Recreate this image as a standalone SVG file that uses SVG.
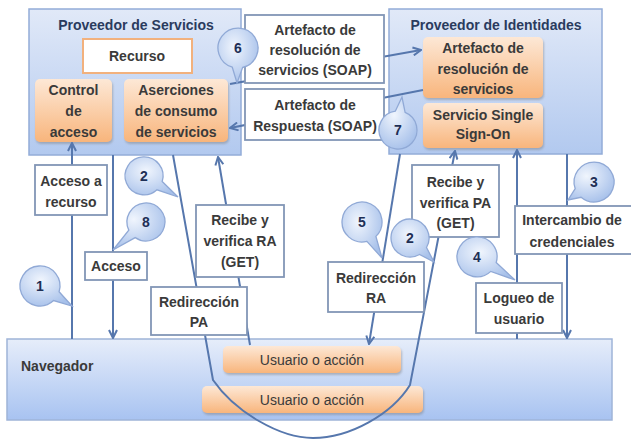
<svg xmlns="http://www.w3.org/2000/svg" width="631" height="440" viewBox="0 0 631 440">
<defs>
<linearGradient id="gCont" x1="0" y1="0" x2="0" y2="1">
<stop offset="0" stop-color="#e1e9f8"/><stop offset="1" stop-color="#b2c9ef"/>
</linearGradient>
<linearGradient id="gNav" x1="0" y1="0" x2="0" y2="1">
<stop offset="0" stop-color="#e6edfa"/><stop offset="1" stop-color="#a8c3f1"/>
</linearGradient>
<linearGradient id="gOr" x1="0" y1="0" x2="0" y2="1">
<stop offset="0" stop-color="#fde8d6"/><stop offset="1" stop-color="#f8b57c"/>
</linearGradient>
<radialGradient id="gBub" cx="0.4" cy="0.35" r="0.7">
<stop offset="0" stop-color="#f0f5fd"/><stop offset="1" stop-color="#a6c0ea"/>
</radialGradient>
<marker id="arr" viewBox="0 0 10 10" refX="9" refY="5" markerWidth="10" markerHeight="10" markerUnits="userSpaceOnUse" orient="auto">
<path d="M1,1 L9,5 L1,9" fill="none" stroke="#5677ad" stroke-width="2"/>
</marker>
<filter id="sh" x="-10%" y="-10%" width="130%" height="140%">
<feDropShadow dx="1" dy="2" stdDeviation="1.2" flood-color="#7a7a7a" flood-opacity="0.45"/>
</filter>
</defs>
<style>
.cont{fill:url(#gCont);stroke:#93acd8;stroke-width:1.5}
.nav{fill:url(#gNav);stroke:#9fb4d8;stroke-width:1.5}
.or{fill:url(#gOr);stroke:none;filter:url(#sh)}
.lab{fill:#ffffff;stroke:#8296b6;stroke-width:1.8}
.rec{fill:#ffffff;stroke:#f2b17d;stroke-width:2}
.bub{fill:url(#gBub);stroke:#90a9d6;stroke-width:1.3}
.c{fill:none;stroke:#5677ad;stroke-width:2}
.a{marker-end:url(#arr)}
text{font-family:"Liberation Sans",Arial,sans-serif;font-size:14px;font-weight:bold;fill:#3a3a3a;text-anchor:middle}
.t{fill:#2a3b5e}
.n{font-weight:normal}
.num{fill:#1e2f55}
</style>

<g id="proveedor-servicios">
<rect class="cont" x="29" y="9" width="212" height="146"/>
<text class="t" x="136" y="30">Proveedor de Servicios</text>
</g>
<g id="proveedor-identidades">
<rect class="cont" x="389" y="9" width="213" height="145"/>
<text class="t" x="496" y="30">Proveedor de Identidades</text>
</g>
<g id="navegador">
<rect class="nav" x="7" y="339" width="605" height="81"/>
<text x="21" y="371" style="text-anchor:start">Navegador</text>
</g>

<g id="recurso">
<rect class="rec" x="83" y="39" width="109" height="34"/>
<text x="137" y="61">Recurso</text>
</g>
<g id="control-acceso">
<rect class="or" x="35" y="79" width="77" height="63" rx="5"/>
<text x="73.5" y="95">Control</text><text x="73.5" y="116">de</text><text x="73.5" y="137">acceso</text>
</g>
<g id="aserciones">
<rect class="or" x="124" y="79" width="104" height="63" rx="5"/>
<text x="176" y="95">Aserciones</text><text x="176" y="116">de consumo</text><text x="176" y="137">de servicios</text>
</g>
<g id="artefacto-idp">
<rect class="or" x="423" y="37" width="120" height="61" rx="5"/>
<text x="483" y="53">Artefacto de</text><text x="483" y="74">resolución de</text><text x="483" y="94">servicios</text>
</g>
<g id="sso">
<rect class="or" x="423" y="103" width="120" height="45" rx="5"/>
<text x="483" y="120">Servicio Single</text><text x="483" y="139">Sign-On</text>
</g>
<g id="usuario-accion-1">
<rect class="or" x="223" y="346" width="178" height="27" rx="5"/>
<text class="n" x="312" y="365">Usuario o acción</text>
</g>
<g id="usuario-accion-2">
<rect class="or" x="202" y="386" width="221" height="27" rx="5"/>
<text class="n" x="312" y="405">Usuario o acción</text>
</g>

<g id="connectors">
<line class="c a" x1="230" y1="84" x2="421" y2="50"/>
<line class="c a" x1="423" y1="90" x2="230" y2="128"/>
<line class="c a" x1="72" y1="339" x2="72" y2="143"/>
<line class="c a" x1="113" y1="155" x2="113" y2="338"/>
<line class="c a" x1="250" y1="345" x2="218" y2="157"/>
<path class="c a" d="M173,155 L213,380 C235,412 280,438 313,438 C350,438 392,414 410,385 L455,151"/>
<line class="c a" x1="400" y1="154" x2="369" y2="344"/>
<line class="c a" x1="517" y1="339" x2="517" y2="150"/>
<line class="c a" x1="567" y1="154" x2="567" y2="338"/>
</g>

<g id="label-artefacto-resolucion">
<rect class="lab" x="245" y="15" width="139" height="68"/>
<text x="315" y="35">Artefacto de</text><text x="315" y="55">resolución de</text><text x="315" y="75">servicios (SOAP)</text>
</g>
<g id="label-artefacto-respuesta">
<rect class="lab" x="245" y="89" width="139" height="51"/>
<text x="315" y="110">Artefacto de</text><text x="315" y="131">Respuesta (SOAP)</text>
</g>
<g id="label-acceso-recurso">
<rect class="lab" x="35" y="165" width="72" height="50"/>
<text x="71" y="186">Acceso a</text><text x="71" y="207">recurso</text>
</g>
<g id="label-acceso">
<rect class="lab" x="85" y="252" width="62" height="28"/>
<text x="116" y="271">Acceso</text>
</g>
<g id="label-recibe-ra">
<rect class="lab" x="196" y="205" width="88" height="72"/>
<text x="240" y="225">Recibe y</text><text x="240" y="246">verifica RA</text><text x="240" y="267">(GET)</text>
</g>
<g id="label-redireccion-pa">
<rect class="lab" x="151" y="287" width="96" height="48"/>
<text x="199" y="307">Redirección</text><text x="199" y="327">PA</text>
</g>
<g id="label-redireccion-ra">
<rect class="lab" x="328" y="262" width="96" height="50"/>
<text x="376" y="283">Redirección</text><text x="376" y="303">RA</text>
</g>
<g id="label-recibe-pa">
<rect class="lab" x="412" y="165" width="87" height="72"/>
<text x="455.5" y="187">Recibe y</text><text x="455.5" y="208">verifica PA</text><text x="455.5" y="228">(GET)</text>
</g>
<g id="label-intercambio">
<rect class="lab" x="515" y="206" width="125" height="48"/>
<text x="572" y="225">Intercambio de</text><text x="572" y="247">credenciales</text>
</g>
<g id="label-logueo">
<rect class="lab" x="476" y="283" width="86" height="50"/>
<text x="519" y="303">Logueo de</text><text x="519" y="324">usuario</text>
</g>

<g id="bubble-1"><path class="bub" d="M53.6,300.6 A20,20 0 1 1 59.1,291.8 L72,306 Z"/><text class="num" x="40" y="291">1</text></g>
<g id="bubble-2a"><path class="bub" d="M157,189.8 A19,19 0 1 1 162.2,181.5 L178,197 Z"/><text class="num" x="144" y="181">2</text></g>
<g id="bubble-8"><path class="bub" d="M128.8,230.1 A19,19 0 1 1 135.2,237.6 L113,250 Z"/><text class="num" x="146" y="227">8</text></g>
<g id="bubble-6"><path class="bub" d="M232.3,67.2 A20,20 0 1 1 242.6,67.5 L237,83 Z"/><text class="num" x="238" y="53">6</text></g>
<g id="bubble-7"><path class="bub" d="M405.1,112.4 A19,19 0 1 1 395.3,111.2 L402,97 Z"/><text class="num" x="398" y="135">7</text></g>
<g id="bubble-2b"><path class="bub" d="M419.5,254.5 A19,19 0 1 1 426.5,247.5 L434,262 Z"/><text class="num" x="410" y="243">2</text></g>
<g id="bubble-5"><path class="bub" d="M366.9,241.4 A20,20 0 1 1 375.9,236.4 L382,258 Z"/><text class="num" x="362" y="227">5</text></g>
<g id="bubble-4"><path class="bub" d="M490.8,271.4 A20,20 0 1 1 496.2,262.6 L515,280 Z"/><text class="num" x="477" y="262">4</text></g>
<g id="bubble-3"><path class="bub" d="M575.2,188.7 A20,20 0 1 1 581.1,197.3 L568,200 Z"/><text class="num" x="594" y="187">3</text></g>
</svg>
